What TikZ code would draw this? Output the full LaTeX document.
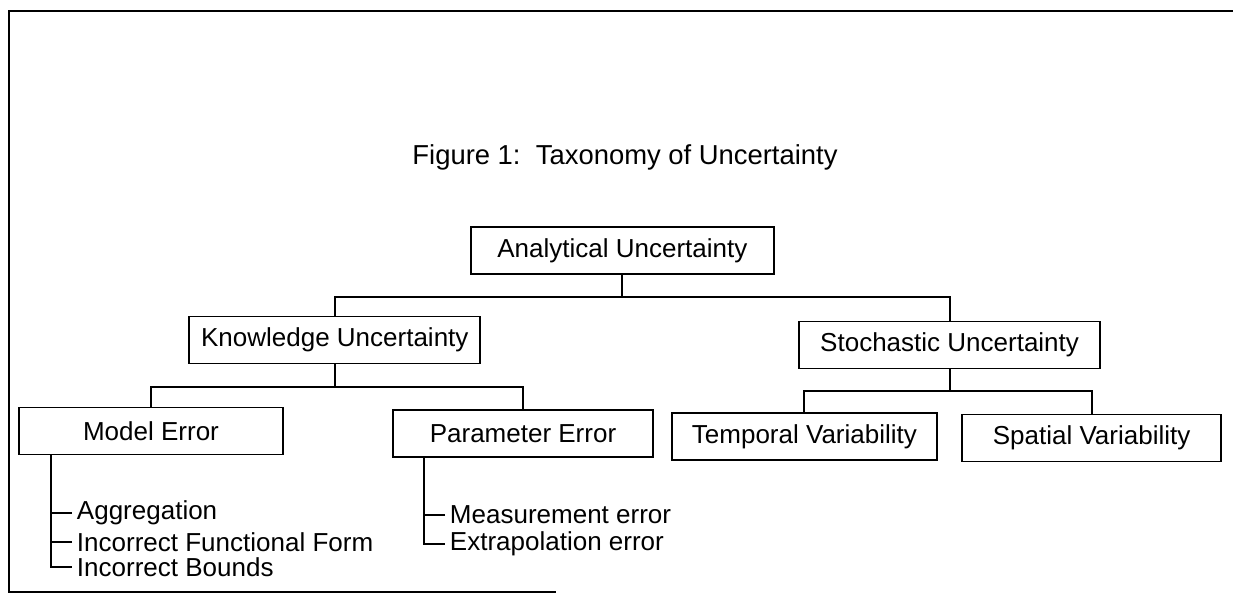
\documentclass[tikz,border=0pt]{standalone}
\usepackage{fontspec}
\setmainfont{Liberation Sans}
\usetikzlibrary{positioning,calc}

\begin{document}
\begin{tikzpicture}[
  box/.style={draw, line width=1.3pt, minimum height=1.175cm, inner sep=2pt,
    font=\fontsize{18.5}{22}\selectfont},
  item/.style={anchor=west, font=\fontsize{18.5}{22}\selectfont},
  conn/.style={line width=1.3pt}
]
\useasboundingbox (0,0) rectangle (30.825,-14.85);
% frame
\draw[conn] (30.825,-0.275) -- (0.225,-0.275) -- (0.225,-14.8) -- (13.9,-14.8);
\node[font=\fontsize{19.5}{23}\selectfont] (title) at (15.625,-3.925) {Figure 1:\ \ Taxonomy of Uncertainty};
% boxes
\node[box, minimum width=7.575cm] (anal) at (15.56,-6.26) {Analytical Uncertainty};
\node[box, minimum width=7.275cm] (know) at (8.37,-8.5) {Knowledge Uncertainty};
\node[box, minimum width=7.525cm] (stoch) at (23.74,-8.625) {Stochastic Uncertainty};
\node[box, minimum width=6.6cm] (model) at (3.775,-10.775) {Model Error};
\node[box, minimum width=6.5cm] (param) at (13.075,-10.84) {Parameter Error};
\node[box, minimum width=6.625cm] (temp) at (20.11,-10.91) {Temporal Variability};
\node[box, minimum width=6.475cm] (spat) at (27.29,-10.95) {Spatial Variability};
% lists
\node[item] (agg) at (1.8,-12.825) {Aggregation};
\node[item] (func) at (1.8,-13.55) {Incorrect Functional Form};
\node[item] (bnd) at (1.8,-14.175) {Incorrect Bounds};
\node[item] (meas) at (11.125,-12.875) {Measurement error};
\node[item] (extr) at (11.125,-13.6) {Extrapolation error};
% tree lines
\draw[conn] (anal.south) -- ++(0,-0.55) coordinate (j1);
\draw[conn] (j1) -| (know.north);
\draw[conn] (j1) -| (stoch.north);
\draw[conn] (know.south) -- ++(0,-0.5625) coordinate (j2);
\draw[conn] (j2) -| (model.north);
\draw[conn] (j2) -| (param.north);
\draw[conn] (stoch.south) -- ++(0,-0.5375) coordinate (j3);
\draw[conn] (j3) -| (temp.north);
\draw[conn] (j3) -| (spat.north);
\draw[conn] ([xshift=0.825cm]model.south west) coordinate (mt) |- (bnd.west);
\draw[conn] (agg.west) -- (agg.west -| mt);
\draw[conn] (func.west) -- (func.west -| mt);
\draw[conn] ([xshift=0.8cm]param.south west) |- (extr.west);
\draw[conn] (meas.west) -- ++(-0.5,0);
\end{tikzpicture}
\end{document}
